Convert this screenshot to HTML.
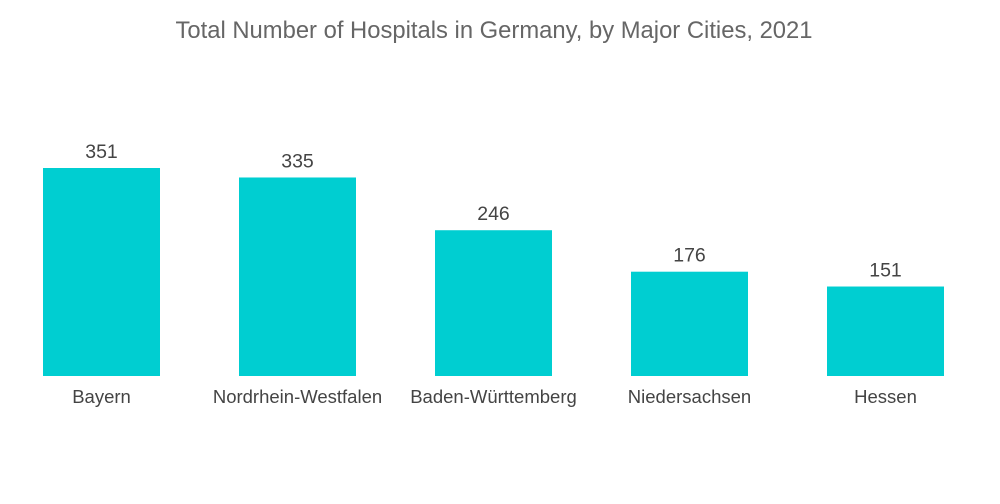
<!DOCTYPE html>
<html><head><meta charset="utf-8"><style>
body{margin:0;background:#fff;}
svg{display:block;font-family:"Liberation Sans",sans-serif;}
</style></head><body>
<svg id="chart" width="1000" height="504">
<text x="494" y="38" text-anchor="middle" font-size="23.8" fill="#666">Total Number of Hospitals in Germany, by Major Cities, 2021</text>
</svg>
<script>
const categories=["Bayern","Nordrhein-Westfalen","Baden-Württemberg","Niedersachsen","Hessen"];
const values=[351,335,246,176,151];
const svg=document.getElementById('chart');
const NS='http://www.w3.org/2000/svg';
const baseY=376, pxPerUnit=208/351, x0=101.5, step=196, bw=117;
function xScale(i){return x0+i*step;}
function yScale(v){return baseY-v*pxPerUnit;}
categories.forEach((c,i)=>{
  const cx=xScale(i), top=yScale(values[i]);
  const r=document.createElementNS(NS,'rect');
  r.setAttribute('x',cx-bw/2);r.setAttribute('y',top);
  r.setAttribute('width',bw);r.setAttribute('height',baseY-top);
  r.setAttribute('fill','#00ced1');
  
  
  svg.appendChild(r);
  const v=document.createElementNS(NS,'text');
  v.setAttribute('x',cx);v.setAttribute('y',top-10);
  v.setAttribute('text-anchor','middle');v.setAttribute('font-size','19.5');v.setAttribute('fill','#444');
  v.textContent=values[i];
  
  
  svg.appendChild(v);
  const l=document.createElementNS(NS,'text');
  l.setAttribute('x',cx);l.setAttribute('y',403);
  l.setAttribute('text-anchor','middle');l.setAttribute('font-size','18.5');l.setAttribute('fill','#444');
  l.textContent=c;
  
  
  svg.appendChild(l);
});
</script>
</body></html>
